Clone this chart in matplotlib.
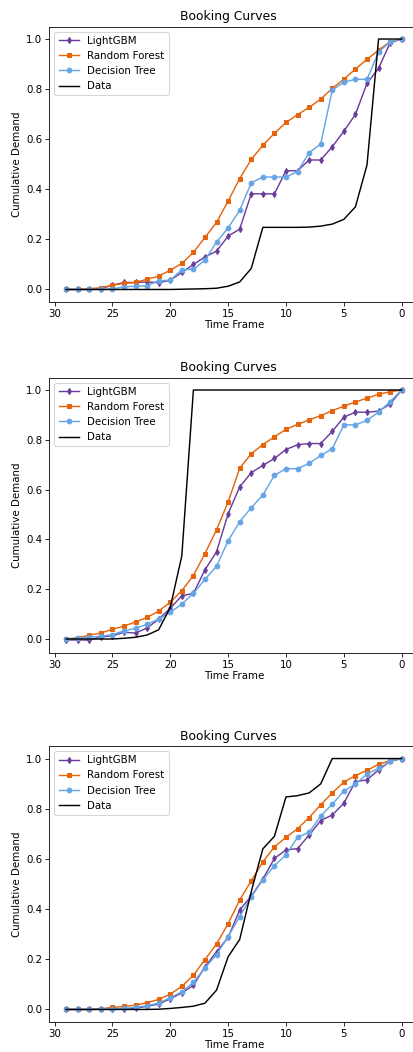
import numpy as np
import matplotlib
matplotlib.use("Agg")
import matplotlib.pyplot as plt

# Days before departure, from 29 down to 0
days = list(range(29, -1, -1))

# Curve 1
lgbm_1 = [0, 0, 0, 0.003, 0.017, 0.028, 0.028, 0.030, 0.027, 0.037, 0.068, 0.100,
          0.130, 0.153, 0.213, 0.241, 0.382, 0.382, 0.382, 0.474, 0.474, 0.517,
          0.517, 0.570, 0.632, 0.699, 0.823, 0.883, 0.985, 1.0]
rf_1 = [0, 0, 0.003, 0.007, 0.017, 0.024, 0.028, 0.041, 0.053, 0.077, 0.104, 0.148,
        0.208, 0.268, 0.353, 0.443, 0.519, 0.576, 0.623, 0.667, 0.698, 0.727,
        0.760, 0.803, 0.840, 0.880, 0.919, 0.956, 0.989, 1.0]
dt_1 = [0, 0, 0, 0, 0.003, 0.010, 0.013, 0.015, 0.035, 0.037, 0.079, 0.081,
        0.117, 0.189, 0.246, 0.316, 0.426, 0.449, 0.449, 0.449, 0.471, 0.546,
        0.581, 0.796, 0.828, 0.839, 0.839, 0.949, 0.988, 1.0]
data_1 = [0, 0, 0, 0, 0, 0, 0, 0, 0, 0, 0.001, 0.002, 0.003, 0.005, 0.013, 0.030,
          0.084, 0.248, 0.248, 0.248, 0.248, 0.249, 0.253, 0.261, 0.280, 0.330,
          0.497, 1.0, 1.0, 1.0]

# Curve 2
lgbm_2 = [-0.004, -0.004, -0.004, 0.008, 0.013, 0.027, 0.024, 0.044, 0.080, 0.123,
          0.174, 0.183, 0.278, 0.350, 0.503, 0.611, 0.668, 0.697, 0.725, 0.761,
          0.780, 0.785, 0.785, 0.834, 0.891, 0.911, 0.911, 0.915, 0.944, 1.0]
rf_2 = [0, 0.005, 0.015, 0.024, 0.039, 0.052, 0.068, 0.087, 0.112, 0.148, 0.194,
        0.255, 0.343, 0.439, 0.550, 0.686, 0.744, 0.781, 0.812, 0.842, 0.862,
        0.880, 0.897, 0.917, 0.935, 0.952, 0.967, 0.983, 0.993, 1.0]
dt_2 = [0, 0.003, 0.007, 0.011, 0.017, 0.033, 0.043, 0.059, 0.080, 0.107, 0.140,
        0.183, 0.240, 0.292, 0.394, 0.471, 0.527, 0.578, 0.657, 0.684, 0.684,
        0.705, 0.737, 0.764, 0.860, 0.860, 0.878, 0.911, 0.953, 1.0]
data_2 = [0, 0, 0, 0, 0, 0.003, 0.007, 0.016, 0.037, 0.127, 0.334, 1.0, 1.0, 1.0,
          1.0, 1.0, 1.0, 1.0, 1.0, 1.0, 1.0, 1.0, 1.0, 1.0, 1.0, 1.0, 1.0, 1.0,
          1.0, 1.0]

# Curve 3
lgbm_3 = [0, 0, 0, 0.001, 0, 0.003, 0.004, 0.013, 0.021, 0.043, 0.066, 0.096,
          0.170, 0.230, 0.287, 0.396, 0.452, 0.519, 0.602, 0.636, 0.641, 0.695,
          0.753, 0.775, 0.822, 0.908, 0.915, 0.955, 0.989, 1.0]
rf_3 = [0, 0, 0, 0.003, 0.008, 0.012, 0.017, 0.027, 0.040, 0.061, 0.092, 0.136,
        0.199, 0.261, 0.342, 0.436, 0.513, 0.588, 0.648, 0.686, 0.720, 0.765,
        0.816, 0.863, 0.906, 0.932, 0.953, 0.977, 0.992, 1.0]
dt_3 = [0, 0, 0, 0.001, 0.003, 0.004, 0.008, 0.015, 0.025, 0.047, 0.070, 0.108,
        0.165, 0.219, 0.290, 0.370, 0.449, 0.516, 0.573, 0.616, 0.686, 0.706,
        0.771, 0.818, 0.871, 0.898, 0.938, 0.961, 0.989, 1.0]
data_3 = [0, 0, 0, 0, 0, 0, 0, 0, 0.001, 0.004, 0.008, 0.013, 0.025, 0.077, 0.210,
          0.279, 0.470, 0.640, 0.690, 0.847, 0.852, 0.863, 0.899, 1.0, 1.0, 1.0,
          1.0, 1.0, 1.0, 1.0]

curves = [
    (lgbm_1, rf_1, dt_1, data_1),
    (lgbm_2, rf_2, dt_2, data_2),
    (lgbm_3, rf_3, dt_3, data_3),
]

C_LGBM = "#6a3d9a"
C_RF = "#e6650c"
C_DT = "#65a5e6"

W, H, DPI = 413, 1052, 74
fig = plt.figure(figsize=(W / DPI, H / DPI), dpi=DPI)

# axes boxes in pixels: (top, bottom)
left_px, right_px = 49.3, 418.5
rows = [(26.5, 302.0), (377.5, 652.5), (746.0, 1022.0)]

for (top, bot), (lg, rf, dt, dat) in zip(rows, curves):
    ax = fig.add_axes([left_px / W, 1 - bot / H, (right_px - left_px) / W, (bot - top) / H])
    ax.plot(days, lg, color=C_LGBM, marker="d", markersize=4.2, lw=1.4, label="LightGBM")
    ax.plot(days, rf, color=C_RF, marker="s", markersize=4.6, lw=1.4, label="Random Forest")
    ax.plot(days, dt, color=C_DT, marker="o", markersize=4.6, lw=1.4, label="Decision Tree")
    ax.plot(days, dat, color="black", lw=1.4, label="Data")
    ax.invert_xaxis()
    ax.set_xticks([30, 25, 20, 15, 10, 5, 0])
    ax.set_yticks([0.0, 0.2, 0.4, 0.6, 0.8, 1.0])
    ax.set_xlabel("Time Frame", labelpad=1)
    ax.set_ylabel("Cumulative Demand")
    ax.set_title("Booking Curves", x=0.486)
    ax.legend(loc="upper left")

fig.savefig("out.png", dpi=DPI)
